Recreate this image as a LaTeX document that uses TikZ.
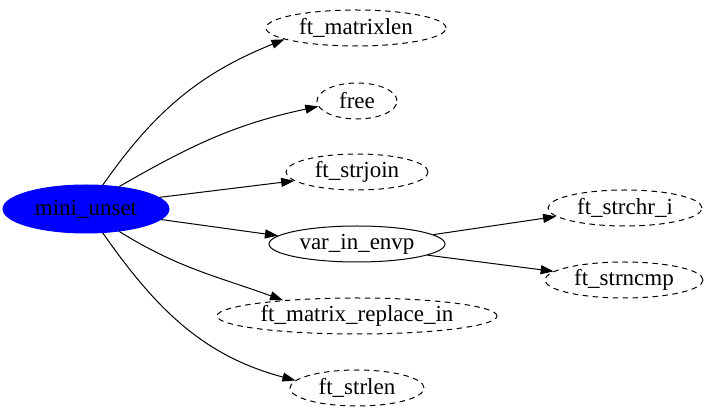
\documentclass[tikz,border=0pt]{standalone}
\usepackage{fontspec}
\setmainfont{Liberation Serif}
\usetikzlibrary{shapes.geometric}
\usetikzlibrary{arrows.meta}

\begin{document}
\begin{tikzpicture}[
        x=1pt, y=1pt,
        every node/.append style={ellipse, draw=black, line width=1pt, inner sep=0pt, minimum height=36pt,
            font=\fontsize{23}{28}\selectfont},
        callee/.style={dash pattern=on 5.5pt off 4.5pt},
        every path/.append style={line width=1pt},
        link/.style={-{Triangle[length=13pt,width=9pt]}}
    ]
        \useasboundingbox (0,0) rectangle (713,-419);
        \node (unset) [fill=blue, draw=blue, minimum width=166pt, minimum height=48pt] at (86,-209) {mini\_unset};
        \node (matrixlen) [callee, minimum width=180pt] at (356,-28) {ft\_matrixlen};
        \node (free) [callee, minimum width=80pt] at (357,-101) {free};
        \node (strjoin) [callee, minimum width=142pt] at (357,-172) {ft\_strjoin};
        \node (envp) [minimum width=176pt] at (357,-244) {var\_in\_envp};
        \node (replace) [callee, minimum width=280pt] at (357,-316) {ft\_matrix\_replace\_in};
        \node (strlen) [callee, minimum width=134pt] at (357,-388) {ft\_strlen};
        \node (strchr) [callee, minimum width=154pt] at (625,-208) {ft\_strchr\_i};
        \node (strncmp) [callee, minimum width=158pt] at (624,-280) {ft\_strncmp};

        \draw[link] (unset.55) to[out=55, in=202] (matrixlen.189);
        \draw[link] (unset.34) to[out=30, in=192] (free.188);
        \draw[link] (unset.9) -- (strjoin.188);
        \draw[link] (unset.-8) -- (envp.174);
        \draw[link] (unset.-34) to[out=-32, in=160] (replace.168);
        \draw[link] (unset.-55) to[out=-55, in=165] (strlen.173);
        \draw[link] (envp.7) -- (strchr.187);
        \draw[link] (envp.-9) -- (strncmp.173);
    \end{tikzpicture}
\end{document}
